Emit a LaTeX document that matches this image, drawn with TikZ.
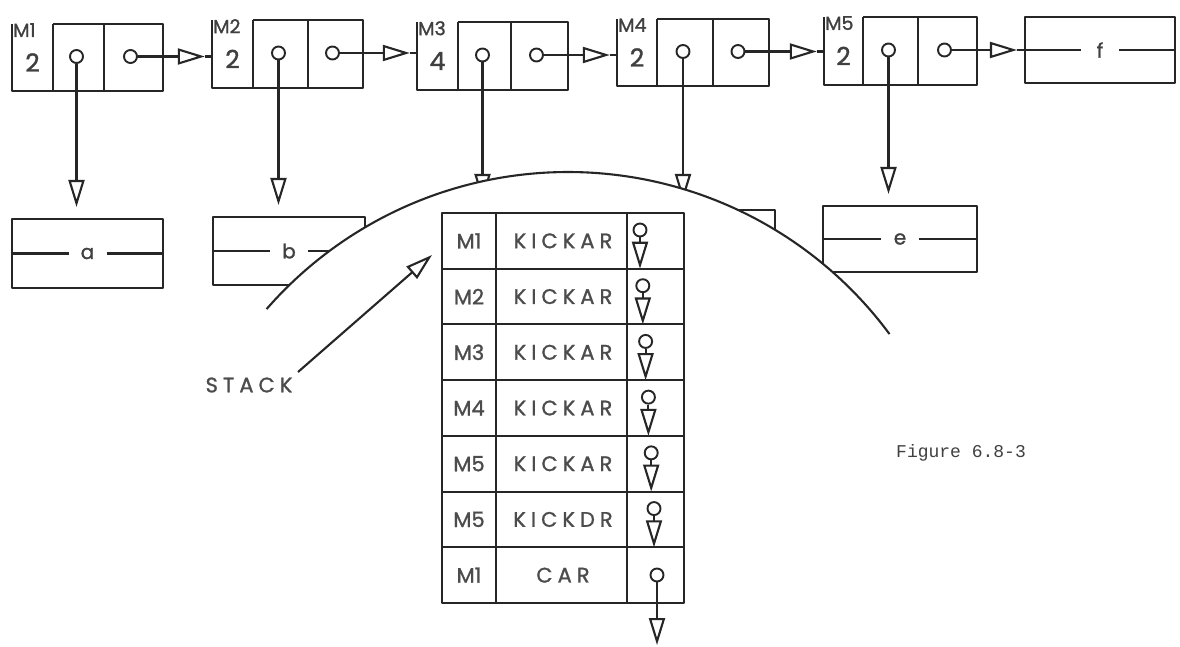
\documentclass[tikz,border=0pt]{standalone}
\usepackage{fontspec}
\setmainfont{Poppins}
\newfontfamily\lettfont[LetterSpace=24, FakeBold=1.2]{Poppins}
\newfontfamily\boldish[FakeBold=1.2]{Poppins}
\newfontfamily\typew{Liberation Mono}
\usetikzlibrary{arrows.meta,calc}
\tikzset{
  ln/.style={draw=black!85, line width=2.1pt, line join=round},
  tri/.tip={Triangle[open,length=27pt,width=16pt]},
  ptr/.style={circle, draw=black!85, line width=1.9pt, inner sep=0pt, minimum size=13pt, fill=white},
  toplab/.style={font=\boldish\fontsize{19}{20}\selectfont, text=black!75, inner sep=0pt},
  digit/.style={font=\boldish\fontsize{25}{26}\selectfont, text=black!75, inner sep=0pt},
  boxtxt/.style={font=\boldish\fontsize{20}{22}\selectfont, text=black!75, inner sep=0pt},
  stm/.style={font=\boldish\fontsize{21}{22}\selectfont, text=black!70, inner sep=0pt},
  stf/.style={font=\lettfont\fontsize{21}{22}\selectfont, text=black!70, inner sep=0pt},
}
% name, L, T, R, B, D1, D2, label, digit
\newcommand\topcell[9]{%
  \node[inner sep=0pt, minimum width={#4-#2}, minimum height={#5-#3}] (#1) at ({(#2+#4)/2},{(#3+#5)/2}) {};
  \draw[ln] (#6,#3) -- (#4,#3) -- (#4,#5) -- (#2,#5) -- (#2,#3);
  \draw[ln] (#6,#3) -- (#6,#5) (#7,#3) -- (#7,#5);
  \node[toplab, anchor=north west] (#1lab) at (#2+1,#3-1) {#8};
  \node[digit] (#1n) at ({(#2+#6)/2},{(#3+#5)/2+5}) {#9};
  \node[ptr] (#1car) at ({(#6+#7)/2-2},{(#3+#5)/2-1}) {};
  \node[ptr] (#1cdr) at ({(#7+#4)/2-3},{(#3+#5)/2-1}) {};
}
% name, cx, cy, w, h, letter
\newcommand\listbox[6]{%
  \node[ln, draw, inner sep=0pt, minimum width=#4, minimum height=#5] (#1) at (#2,#3) {};
  \draw[ln] (#1.west) -- ($(#1.center)+(-19,0)$) ($(#1.center)+(19,0)$) -- (#1.east);
  \node[boxtxt] (#1t) at (#1.center) {#6};
}
\begin{document}
\begin{tikzpicture}[x=1pt,y=-1pt]
\useasboundingbox[fill=white] (0,0) rectangle (1180,647);

% top row
\topcell{M1}{12}{24}{163}{91}{53}{104}{M1}{2}
\topcell{M2}{212}{20}{363}{88}{253}{308}{M2}{2}
\topcell{M3}{417}{22}{568}{90}{458}{511}{M3}{4}
\topcell{M4}{617}{19}{769}{86}{657}{713}{M4}{2}
\topcell{M5}{824}{17}{977}{85}{863}{918}{M5}{2}
\listbox{boxf}{1100}{50}{150}{66}{f}

\foreach \a/\b in {M1/M2, M2/M3, M3/M4, M4/M5, M5/boxf} {
  \draw[ln,-tri] (\a cdr) -- ($(\b.west |- \a cdr)+(-7,0)$);
  \draw[ln] ($(\b.west |- \a cdr)+(-7,0)$) -- (\b.west |- \a cdr);
}

% second row
\listbox{boxa}{87.5}{253.5}{151}{69}{a}
\listbox{boxb}{289}{251}{152}{68}{b}
\listbox{boxe}{900}{239}{154}{66}{e}
\node[ln, draw, inner sep=0pt, minimum width=155, minimum height=68] (boxd) at (697.5,244) {};

\draw[ln,-tri] (M1car) -- ($(boxa.north -| M1car)+(0,-11)$);
\draw[ln,-tri] (M2car) -- ($(boxb.north -| M2car)+(0,-11)$);
\draw[ln,-tri] (M5car) -- ($(boxe.north -| M5car)+(0,-11)$);
\coordinate (c3tip) at ($(M3car |- boxd.north)+(0,-8)$);
\draw[ln,-tri] (M3car) -- (c3tip);
\draw[ln,-tri] (M4car) -- ($(boxd.north -| M4car)+(0,-8)$);

% overlay arc
\fill[white] (568,572) circle[radius=400pt];
\draw[ln] plot[domain=-138.9:-36.5, samples=90, smooth] ({568+400*cos(\x)},{572+400*sin(\x)});

% stack
\draw[ln] (442,213) rectangle (684,603);
\foreach \i in {1,...,6} \draw[ln] (442,{213+55.714*\i}) -- (684,{213+55.714*\i});
\draw[ln] (496,213) -- (496,603) (627,213) -- (627,603);
\foreach \i/\m/\f in {1/M1/KICKAR, 2/M2/KICKAR, 3/M3/KICKAR, 4/M4/KICKAR, 5/M5/KICKAR, 6/M5/KICKDR, 7/M1/CAR} {
  \node[stm] (r\i m) at (469,{213+55.714*(\i-0.5)}) {\m};
  \node[stf] (r\i f) at (563,{213+55.714*(\i-0.5)}) {\f};
}
\foreach \i in {1,...,6} {
  \node[ptr] (r\i p) at ({640+2.8*(\i-1)},{213+55.714*(\i-1)+17}) {};
  \coordinate (r\i e) at ({640+2.8*(\i-1)},{213+55.714*\i});
  \draw[ln,-tri] (r\i p) -- (r\i e);
}
\node[ptr] (r7p) at (657,575) {};
\coordinate (r7e) at (657,645);
\draw[ln,-tri] (r7p) -- (r7e);

% STACK label
\node[stf, font=\lettfont\fontsize{21}{22}\selectfont] (stacklab) at (249,385) {STACK};
\coordinate (stackfrom) at (298,372);
\coordinate (stackto) at (432,255);
\draw[ln,-tri] (stackfrom) -- (stackto);

% caption
\node[anchor=west, inner sep=0pt, font=\typew\fontsize{18}{20}\selectfont, text=black!75] (fig) at (896,453) {Figure 6.8-3};
\end{tikzpicture}
\end{document}
